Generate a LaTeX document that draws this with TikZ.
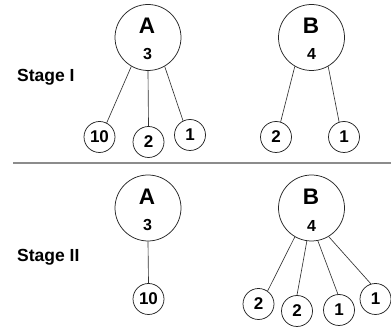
\documentclass[tikz,border=0pt]{standalone}
\usepackage{fontspec}
\setmainfont{Liberation Sans}
\begin{document}
\begin{tikzpicture}[x=1pt,y=-1pt,
  big/.style={circle,draw=black!85,line width=0.75pt,minimum size=66pt,inner sep=0pt},
  small/.style={circle,draw=black!85,line width=0.75pt,minimum size=31pt,inner sep=0pt,font=\fontsize{17}{19}\selectfont\bfseries},
  bigletter/.style={inner sep=0pt,font=\fontsize{22.5}{24}\selectfont\bfseries},
  bignum/.style={inner sep=0pt,font=\fontsize{16}{18}\selectfont\bfseries},
  stagelbl/.style={inner sep=0pt,anchor=base west,font=\fontsize{17.5}{19}\selectfont\bfseries},
  edge/.style={draw=black!80,line width=0.65pt},
  sep/.style={draw=black!45,line width=1.4pt}]
\useasboundingbox (0,0) rectangle (391,328);
% Stage I
\node[stagelbl] (s1) at (17,82) {Stage I};
\node[big] (A1) at (148,37.5) {};
\node[bigletter] (A1l) at (147,26) {A};
\node[bignum] (A1n) at (147.5,54) {3};
\node[big] (B1) at (311.5,37.5) {};
\node[bigletter] (B1l) at (311,26) {B};
\node[bignum] (B1n) at (311.5,54) {4};
\node[small] (a10) at (99.5,137) {10};
\node[small] (a2) at (148.5,142) {2};
\node[small] (a1) at (190,135) {1};
\node[small] (b2) at (276,137) {2};
\node[small] (b1) at (344,137) {1};
\draw[edge] (A1.240) -- (a10.63);
\draw[edge] (A1.270) -- (a2.90);
\draw[edge] (A1.300) -- (a1.116);
\draw[edge] (B1.240) -- (b2.73);
\draw[edge] (B1.300) -- (b1.108);
% separator
\coordinate (sepL) at (13,163);
\coordinate (sepR) at (391,163);
\draw[sep] (sepL) -- (sepR);
% Stage II
\node[stagelbl] (s2) at (17,262) {Stage II};
\node[big] (A2) at (148,208) {};
\node[bigletter] (A2l) at (147,197) {A};
\node[bignum] (A2n) at (147.5,225) {3};
\node[big] (B2) at (311.5,208) {};
\node[bigletter] (B2l) at (311,197) {B};
\node[bignum] (B2n) at (311.5,226) {4};
\node[small] (c10) at (148.5,299) {10};
\node[small] (d2a) at (258.5,304) {2};
\node[small] (d2b) at (297,311) {2};
\node[small] (d1a) at (339,310) {1};
\node[small] (d1b) at (375.5,299) {1};
\draw[edge] (A2.270) -- (c10.90);
\draw[edge] (B2.240) -- (d2a.55);
\draw[edge] (B2.262) -- (d2b.90);
\draw[edge] (B2.281) -- (d1a.94);
\draw[edge] (B2.301) -- (d1b.107);
\end{tikzpicture}
\end{document}
